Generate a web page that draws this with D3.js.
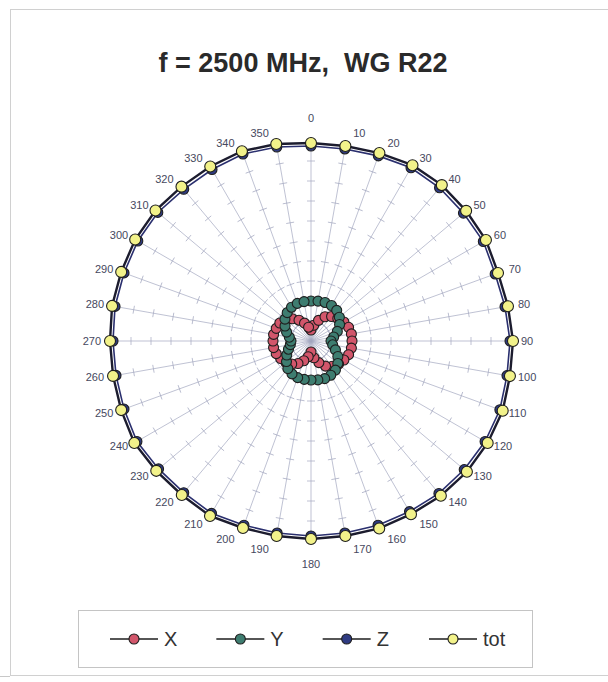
<!DOCTYPE html>
<html>
<head>
<meta charset="utf-8">
<script src="https://cdn.jsdelivr.net/npm/d3@7"></script>
<style>
  html, body { margin: 0; padding: 0; background: #fff; }
  svg { display: block; font-family: "Liberation Sans", Arial, sans-serif; }
</style>
</head>
<body>
<svg id="chart" width="608" height="682"></svg>
<script>
// angle categories, degrees
const angles = [0, 10, 20, 30, 40, 50, 60, 70, 80, 90, 100, 110, 120, 130, 140, 150, 160, 170,
  180, 190, 200, 210, 220, 230, 240, 250, 260, 270, 280, 290, 300, 310, 320, 330, 340, 350];

const xValues = [1.1, 1.6, 2.2, 2.8, 3.2, 3.5, 3.8, 4.0, 4.1, 4.1, 4.1, 4.0, 3.8, 3.6, 3.3, 2.9, 2.3, 1.7,
  1.1, 1.6, 2.1, 2.6, 3.0, 3.3, 3.5, 3.7, 3.8, 3.8, 3.8, 3.7, 3.6, 3.3, 2.9, 2.4, 1.9, 1.4];

const yValues = [4.0, 4.05, 4.1, 4.1, 4.0, 3.7, 3.3, 2.8, 2.3, 2.0, 2.2, 2.6, 3.1, 3.5, 3.8, 3.95, 4.0, 3.95,
  3.9, 3.9, 3.9, 3.8, 3.6, 3.2, 2.8, 2.4, 2.1, 2.0, 2.2, 2.6, 3.0, 3.4, 3.7, 3.9, 4.0, 4.0];

const zValues = [19.5, 19.5, 19.7, 20.0, 20.0, 19.9, 19.9, 19.6, 19.7, 19.9, 19.9, 20.1, 20.1, 20.0, 19.9, 19.7, 19.6, 19.5,
  19.5, 19.5, 19.6, 19.9, 19.8, 19.9, 20.1, 19.9, 19.8, 19.8, 19.9, 19.9, 20.0, 20.0, 19.8, 19.8, 19.9, 19.7];

const totValues = [19.8, 19.8, 20.0, 20.3, 20.35, 20.25, 20.2, 19.9, 20.0, 20.2, 20.2, 20.4, 20.4, 20.35, 20.2, 20.0, 19.95, 19.8,
  19.8, 19.8, 19.9, 20.2, 20.1, 20.2, 20.4, 20.2, 20.1, 20.1, 20.2, 20.2, 20.3, 20.3, 20.15, 20.15, 20.2, 20.0];

const radialTicks = [2, 4, 6, 8, 10, 12, 14, 16, 18, 20];

const seriesNames = ['X', 'Y', 'Z', 'tot'];

const TITLE = 'f = 2500 MHz,  WG R22';

const CX = 311, CY = 341, R_MAX = 200;

const svg = d3.select('#chart');

const rScale = d3.scaleLinear().domain([0, 20]).range([0, R_MAX]);
const aScale = d3.scaleLinear().domain([0, 360]).range([0, 2 * Math.PI]);

const series = [
  { name: 'X', values: xValues, fill: '#d2566b', line: '#3a2a30', width: 1.2, r: 5 },
  { name: 'Y', values: yValues, fill: '#3e7d70', line: '#1e3a34', width: 1.2, r: 5 },
  { name: 'Z', values: zValues, fill: '#2f3b82', line: '#2a2f6e', width: 1.6, r: 5 },
  { name: 'tot', values: totValues, fill: '#f2f28a', line: '#1c1c2e', width: 2.4, r: 5.5 }
];

drawFrame(svg);
const plot = svg.append('g').attr('transform', `translate(${CX},${CY})`);
drawGrid(plot);
drawSeries(plot);
drawLabels(plot);
drawLegend(svg);

function polar(angleDeg, value) {
  const a = aScale(angleDeg);
  const r = rScale(value);
  return [Math.sin(a) * r, -Math.cos(a) * r];
}

function drawFrame(svg) {
  svg.append('rect')
    .attr('x', 10.5).attr('y', 9.5)
    .attr('width', 620).attr('height', 666)
    .attr('fill', '#fff')
    .attr('stroke', '#d0d0d0');

  svg.append('line')
    .attr('x1', 0).attr('x2', 10).attr('y1', 676.5).attr('y2', 676.5)
    .attr('stroke', '#c8c8c8');

  svg.append('text')
    .attr('x', 303).attr('y', 72)
    .attr('text-anchor', 'middle')
    .attr('font-size', 27)
    .attr('font-weight', 'bold')
    .attr('fill', '#2a2a2a')
    .style('white-space', 'pre')
    .text(TITLE);
}

function drawGrid(g) {
  const spokes = g.append('g').attr('class', 'spokes');

  spokes.selectAll('line')
    .data(angles)
    .enter()
    .append('line')
    .attr('x1', 0).attr('y1', 0)
    .attr('x2', d => polar(d, 20)[0])
    .attr('y2', d => polar(d, 20)[1])
    .attr('stroke', '#a4a8c0')
    .attr('stroke-width', 0.7);

  // small crossing tick marks on every spoke
  const ticks = [];
  angles.forEach(a => radialTicks.forEach(t => ticks.push({ a, t })));

  spokes.selectAll('.tick')
    .data(ticks)
    .enter()
    .append('line')
    .attr('class', 'tick')
    .attr('transform', d => {
      const [x, y] = polar(d.a, d.t);
      return `translate(${x},${y}) rotate(${d.a})`;
    })
    .attr('x1', -4).attr('x2', 4)
    .attr('y1', 0).attr('y2', 0)
    .attr('stroke', '#a4a8c0')
    .attr('stroke-width', 0.7);
}

function drawSeries(g) {
  const line = d3.lineRadial()
    .angle((d, i) => aScale(angles[i]))
    .radius(d => rScale(d))
    .curve(d3.curveLinearClosed);

  series.forEach(s => {
    const grp = g.append('g').attr('class', `series series-${s.name}`);

    grp.append('path')
      .attr('d', line(s.values))
      .attr('fill', 'none')
      .attr('stroke', s.line)
      .attr('stroke-width', s.width);

    grp.selectAll('circle')
      .data(s.values)
      .enter()
      .append('circle')
      .attr('cx', (d, i) => polar(angles[i], d)[0])
      .attr('cy', (d, i) => polar(angles[i], d)[1])
      .attr('r', s.r)
      .attr('fill', s.fill)
      .attr('stroke', '#1e1e1e')
      .attr('stroke-width', 1.1);
  });
}

function drawLabels(g) {
  const LABEL_R = 203;

  const labelPos = d => {
    const a = aScale(d);
    const x = Math.sin(a) * LABEL_R;
    const y = -Math.cos(a) * LABEL_R;
    if (d === 0) return [x, y - 20];
    if (d === 180) return [x, y + 20];
    return [x + (d < 180 ? 7 : -7), y - Math.cos(a) * 8];
  };

  g.append('g')
    .attr('class', 'cat-labels')
    .selectAll('text')
    .data(angles)
    .enter()
    .append('text')
    .attr('font-size', 11)
    .attr('fill', '#46485e')
    .attr('text-anchor', d => (d === 0 || d === 180) ? 'middle' : (d < 180 ? 'start' : 'end'))
    .attr('x', d => labelPos(d)[0])
    .attr('y', d => labelPos(d)[1])
    .attr('dy', '0.35em')
    .text(d => d);
}

function drawLegend(svg) {
  const legend = svg.append('g').attr('class', 'legend');

  legend.append('rect')
    .attr('x', 78.5).attr('y', 610.5)
    .attr('width', 454).attr('height', 57)
    .attr('fill', '#fff')
    .attr('stroke', '#c4c4c4');

  const xPos = d3.scalePoint().domain(seriesNames).range([134, 453]);

  const item = legend.selectAll('.item')
    .data(series)
    .enter()
    .append('g')
    .attr('class', 'item')
    .attr('transform', d => `translate(${xPos(d.name)},639)`);

  item.append('line')
    .attr('x1', -24).attr('x2', 24)
    .attr('stroke', '#1e1e1e')
    .attr('stroke-width', 1.5);

  item.append('circle')
    .attr('r', 5)
    .attr('fill', d => d.fill)
    .attr('stroke', '#1e1e1e')
    .attr('stroke-width', 1.1);

  item.append('text')
    .attr('x', 30)
    .attr('dy', '0.36em')
    .attr('font-size', 20)
    .attr('fill', '#333')
    .text(d => d.name);
}
</script>
</body>
</html>
